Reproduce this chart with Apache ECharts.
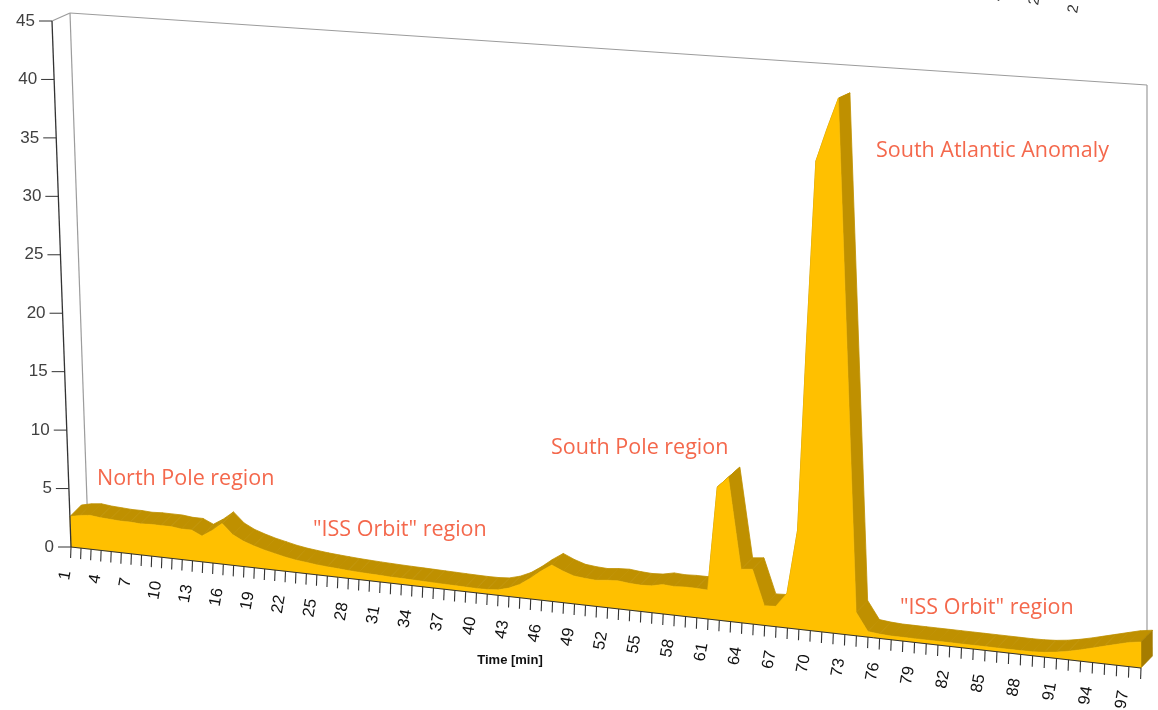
<!DOCTYPE html>
<html>
<head>
<meta charset="utf-8">
<script src="https://cdn.jsdelivr.net/npm/echarts@6/dist/echarts.min.js"></script>
<style>
html,body{margin:0;padding:0;background:#ffffff;}
#c{width:1158px;height:710px;}
</style>
</head>
<body>
<div id="c"></div>
<script>
// ---------- data ----------
const categories = ['1','2','3','4','5','6','7','8','9','10','11','12','13','14','15','16','17','18','19','20',
 '21','22','23','24','25','26','27','28','29','30','31','32','33','34','35','36','37','38','39','40',
 '41','42','43','44','45','46','47','48','49','50','51','52','53','54','55','56','57','58','59','60',
 '61','62','63','64','65','66','67','68','69','70','71','72','73','74','75','76','77','78','79','80',
 '81','82','83','84','85','86','87','88','89','90','91','92','93','94','95','96','97','98'];

const flux = [2.6,2.8,2.9,2.8,2.75,2.7,2.7,2.65,2.7,2.7,2.7,2.6,2.6,2.2,2.75,3.45,2.6,2.15,1.85,1.6,
 1.4,1.2,1.05,0.95,0.85,0.78,0.72,0.66,0.62,0.58,
 0.55,0.52,0.5,0.48,0.46,0.44,0.42,0.4,0.38,0.37,
 0.38,0.45,0.7,1.1,1.7,2.4,3.0,2.6,2.3,2.2,
 2.15,2.25,2.3,2.2,2.15,2.2,2.4,2.35,2.4,2.4,
 2.35,10.8,11.7,4.35,4.45,1.6,1.65,2.8,8.0,23.4,
 37.9,40.6,43.1,1.9,0.45,0.35,0.3,0.3,0.3,0.3,
 0.3,0.3,0.3,0.3,0.3,0.3,0.3,0.3,0.32,0.38,
 0.5,0.68,0.9,1.15,1.4,1.65,1.9,2.05];

const yTicks = [0,5,10,15,20,25,30,35,40,45];
const xTickLabels = ['1','4','7','10','13','16','19','22','25','28','31','34','37','40','43','46','49',
 '52','55','58','61','64','67','70','73','76','79','82','85','88','91','94','97'];

const regionNames = ['North Pole region','"ISS Orbit" region','South Pole region','South Atlantic Anomaly','"ISS Orbit" region'];
const xAxisName = 'Time [min]';

// ---------- chart ----------
const chart = echarts.init(document.getElementById('c'), null, {renderer:'canvas'});
const N = categories.length;
const YMAX = 45;
const K = -0.0927;                       // perspective foreshortening along time
const persp = s => (1 + K) * s / (1 + K * s);
const lerp2 = (a, b, t) => [a[0] + (b[0] - a[0]) * t, a[1] + (b[1] - a[1]) * t];
const bilerp = (c00, c10, c01, c11, s, t) => lerp2(lerp2(c00, c10, s), lerp2(c01, c11, s), t);

const C_FRONT = '#FFC000', C_TOP = '#BF9000', C_SIDE = '#A57C00';
const C_FRAME = '#9c9c9c', C_AXIS = '#333333';
const FONT_AX = '"Liberation Sans", Arial, sans-serif';

function renderAll(params, api) {
  const o = api.coord([0, 0]), r = api.coord([N - 1, 0]), tp = api.coord([0, YMAX]);
  const x0 = o[0], y0 = o[1], x1 = r[0], yT = tp[1];
  const Wd = x1 - x0, Hd = y0 - yT;
  // front plane corners (perspective view of the grid rectangle)
  const F00 = [x0, y0], F10 = [x1, y0 + 121], F01 = [x0 - 19, yT], F11 = [x1 - 2, yT + 74];
  // depth vectors to the back wall
  const W00 = [17, -17], W10 = [6, -18], W01 = [18, -8], W11 = [8, -10];

  function front(i, v) {
    const c = api.coord([i, v]);
    const s = persp((c[0] - x0) / Wd), t = (y0 - c[1]) / Hd;
    const p = bilerp(F00, F10, F01, F11, s, t);
    return {p: p, s: s, t: t};
  }
  const slab = q => [q.p[0] + 11.5, q.p[1] - 12 + 7 * q.t];
  const wall = q => { const w = bilerp(W00, W10, W01, W11, q.s, q.t); return [q.p[0] + w[0], q.p[1] + w[1]]; };

  const kids = [];
  const line = (a, b, col, lw) => kids.push({type:'line', shape:{x1:a[0], y1:a[1], x2:b[0], y2:b[1]}, style:{stroke:col, lineWidth:lw}});

  // back frame
  const fl0 = front(0, 0), fl1 = front(0, YMAX), fr0 = front(N - 1, 0), fr1 = front(N - 1, YMAX);
  line(fl1.p, wall(fl1), C_FRAME, 1.2);
  line(wall(fl1), wall(fr1), C_FRAME, 1.2);
  line(wall(fl0), wall(fl1), C_FRAME, 1.2);
  line(wall(fr0), wall(fr1), C_FRAME, 1.2);

  // top surface strips
  const tops = flux.map((v, i) => front(i, v));
  for (let i = 0; i < N - 1; i++) {
    const a = tops[i], b = tops[i + 1];
    kids.push({type:'polygon', shape:{points:[a.p, b.p, slab(b), slab(a)]},
      style:{fill:C_TOP, stroke:C_TOP, lineWidth:0.8}});
  }
  // right end face
  const eb = front(N - 1, 0), et = tops[N - 1];
  kids.push({type:'polygon', shape:{points:[eb.p, et.p, slab(et), slab(eb)]}, style:{fill:C_SIDE, stroke:C_SIDE, lineWidth:0.5}});
  // front face
  const pts = [fl0.p].concat(tops.map(q => q.p)).concat([eb.p]);
  kids.push({type:'polygon', shape:{points:pts}, style:{fill:C_FRONT, stroke:C_FRONT, lineWidth:0.5}});

  // x axis line, ticks, labels
  line(fl0.p, eb.p, C_AXIS, 1);
  for (let i = 0; i < N; i++) {
    const b = front(i, 0).p;
    line(b, [b[0] - 0.4, b[1] + 11], '#333333', 1.1);
  }
  xTickLabels.forEach(lab => {
    const i = categories.indexOf(lab);
    const b = front(i, 0).p;
    kids.push({type:'text', x:b[0] - 5, y:b[1] + 24, rotation: 80 * Math.PI / 180,
      style:{text:lab, fill:'#111111', font:'16.5px ' + FONT_AX, align:'right', verticalAlign:'middle'}});
  });

  // y axis line, ticks, labels
  line(fl0.p, fl1.p, C_AXIS, 1.3);
  yTicks.forEach(v => {
    const b = front(0, v).p;
    line([b[0] - 13, b[1]], b, C_AXIS, 1);
    kids.push({type:'text', x:b[0] - 17, y:b[1], style:{text:String(v), fill:'#404040', font:'17px ' + FONT_AX, align:'right', verticalAlign:'middle'}});
  });

  return {type:'group', children:kids};
}

const annFont = '21.5px "Open Sans", "Noto Sans", sans-serif';
const annColor = '#F4684C';
const ann = (txt, x, y) => ({type:'text', x:x, y:y, style:{text:txt, fill:annColor, font:annFont, verticalAlign:'middle'}, z:10});
const frag = (x, y) => ({type:'text', x:x, y:y, rotation:80*Math.PI/180, style:{text:'2', fill:'#333', font:'15px ' + FONT_AX, align:'left', verticalAlign:'middle'}});

chart.setOption({
  animation: false,
  backgroundColor: '#ffffff',
  grid: {left: 71, top: 21, width: 1070, height: 526},
  xAxis: {type:'category', data:categories, boundaryGap:false, show:false},
  yAxis: {type:'value', min:0, max:YMAX, interval:5, show:false},
  series: [{
    type:'custom', coordinateSystem:'cartesian2d', clip:false, silent:true,
    data:[[0, 0]], renderItem: renderAll
  }],
  graphic: [
    ann(regionNames[0], 97, 479),
    ann(regionNames[1], 313, 530),
    ann(regionNames[2], 551, 448),
    ann(regionNames[3], 876, 151),
    ann(regionNames[4], 900, 608),
    {type:'text', x:510, y:660, style:{text:xAxisName, fill:'#111111', font:'bold 13px ' + FONT_AX, align:'center', verticalAlign:'middle'}, z:10},
    frag(995, 1), frag(1034, 5), frag(1073, 13)
  ]
});
</script>
</body>
</html>
